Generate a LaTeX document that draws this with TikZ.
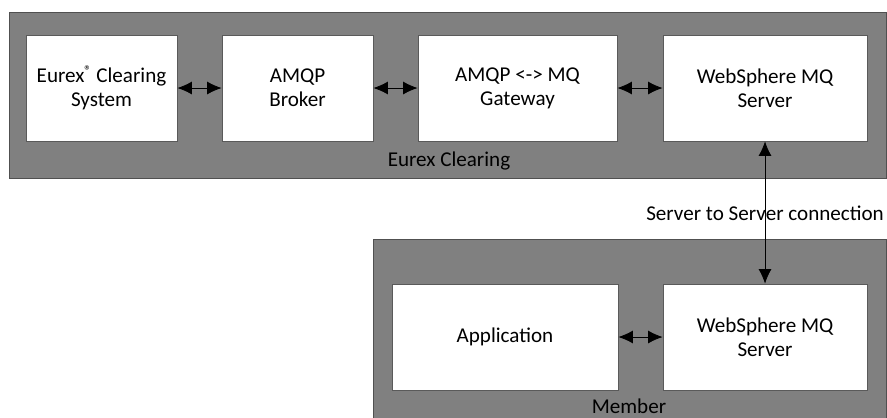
\documentclass[tikz,border=0pt]{standalone}
\usepackage{fontspec}
\setmainfont{Carlito}
\usetikzlibrary{arrows.meta, positioning}

\begin{document}
\begin{tikzpicture}[x=0.025cm, y=-0.025cm,
  area/.style={draw={rgb,255:red,80;green,80;blue,80}, fill={rgb,255:red,128;green,128;blue,128}, line width=0.6pt, inner sep=0pt},
  unit/.style={draw={rgb,255:red,90;green,90;blue,90}, fill=white, line width=0.5pt, align=center, font=\fontsize{15}{17}\selectfont, minimum height=2.65cm},
  link/.style={{Latex[length=3.6mm,width=3.2mm]}-{Latex[length=3.6mm,width=3.2mm]}, line width=0.6pt}]
\useasboundingbox (0,0) rectangle (887,417);
\node (EC) [area, minimum width=21.9cm, minimum height=4.15cm] at (448,95) {};
\node (MB) [area, minimum width=12.825cm, minimum height=4.5cm] at (629.5,329) {};
\node (ECL) [font=\fontsize{15}{17}\selectfont] at (449,161) {Eurex Clearing};
\node (MBL) [font=\fontsize{15}{17}\selectfont] at (629,406) {Member};
\node (ECS) [unit, minimum width=3.775cm] at (101.5,88) {Eurex\raisebox{0.32em}{\fontsize{10}{10}\selectfont ®} Clearing\\System};
\node (AB) [unit, minimum width=3.775cm] at (297.5,88) {AMQP\\Broker};
\node (GW) [unit, minimum width=4.975cm] at (517.5,88) {AMQP <-> MQ\\Gateway};
\node (WS) [unit, minimum width=5.1cm] at (765,88) {WebSphere MQ\\Server};
\node (APP) [unit, minimum width=5.65cm] at (505,337) {Application};
\node (WSM) [unit, minimum width=5.1cm] at (765,337) {WebSphere MQ\\Server};
\node (CON) [font=\fontsize{15}{17}\selectfont] at (765,213) {Server to Server connection};
%Connections:
\path [link]
(ECS) edge (AB)
(AB) edge (GW)
(GW) edge (WS)
(APP) edge (WSM)
(WS) edge (WSM)
;
\end{tikzpicture}
\end{document}
